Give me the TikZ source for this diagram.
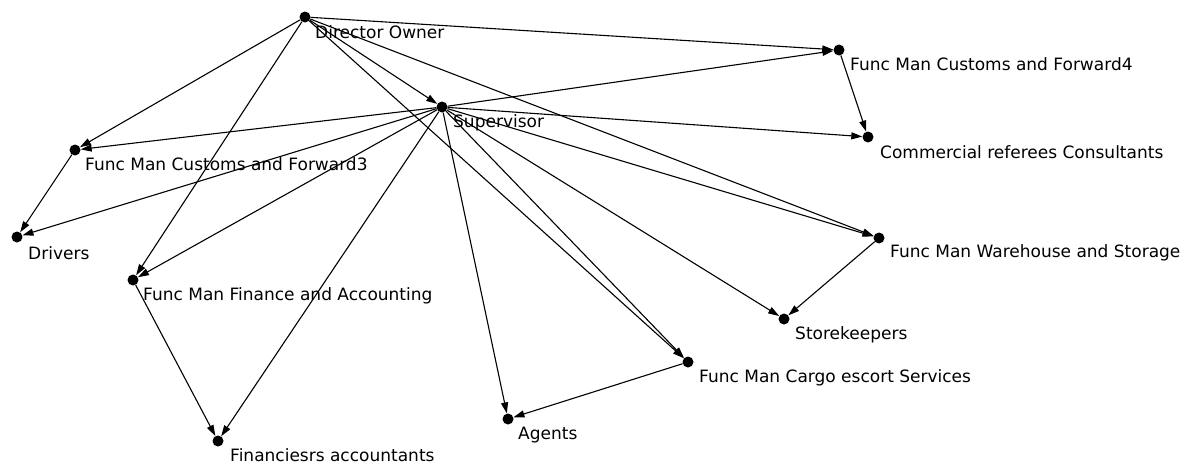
\documentclass[tikz,border=0pt]{standalone}
\usepackage{fontspec}
\setmainfont{DejaVu Sans}
\usetikzlibrary{arrows.meta}
\begin{document}
\begin{tikzpicture}[x=1pt,y=-1pt,
  vertex/.style={circle,fill=black,inner sep=0pt,minimum size=11pt},
  lbl/.style={anchor=west,inner sep=0pt,font=\fontsize{17}{19}\selectfont},
  link/.style={line width=1.1pt,-{Triangle[length=11pt,width=7pt]}}]
\useasboundingbox (0,0) rectangle (1200,466);
% vertices
\node[vertex] (dir)   at (305,17)  {};
\node[vertex] (fm4)   at (839,50)  {};
\node[vertex] (sup)   at (442,107) {};
\node[vertex] (com)   at (868,137) {};
\node[vertex] (fm3)   at (75,150)  {};
\node[vertex] (drv)   at (17,237)  {};
\node[vertex] (wh)    at (879,238) {};
\node[vertex] (fin)   at (133,280) {};
\node[vertex] (stk)   at (784,319) {};
\node[vertex] (cargo) at (688,362) {};
\node[vertex] (agt)   at (508,419) {};
\node[vertex] (fa)    at (218,441) {};
% labels
\node[lbl] (ldir)   at (315,32)  {Director Owner};
\node[lbl] (lfm4)   at (850,64)  {Func Man Customs and Forward4};
\node[lbl] (lsup)   at (453,123) {Supervisor};
\node[lbl] (lcom)   at (880,152) {Commercial referees Consultants};
\node[lbl] (lfm3)   at (85,164)  {Func Man Customs and Forward3};
\node[lbl] (ldrv)   at (28,253)  {Drivers};
\node[lbl] (lwh)    at (890,253) {Func Man Warehouse and Storage};
\node[lbl] (lfin)   at (143,296) {Func Man Finance and Accounting};
\node[lbl] (lstk)   at (795,335) {Storekeepers};
\node[lbl] (lcargo) at (699,378) {Func Man Cargo escort Services};
\node[lbl] (lagt)   at (518,435) {Agents};
\node[lbl] (lfa)    at (230,455) {Financiesrs accountants};
% links from the director
\draw[link] (dir) -- (fm4);
\draw[link] (dir) -- (sup);
\draw[link] (dir) -- (fm3);
\draw[link] (dir) -- (fin);
\draw[link] (dir) -- (wh);
\draw[link] (dir) -- (cargo);
% links from the supervisor
\draw[link] (sup) -- (fm4);
\draw[link] (sup) -- (com);
\draw[link] (sup) -- (fm3);
\draw[link] (sup) -- (drv);
\draw[link] (sup) -- (fin);
\draw[link] (sup) -- (fa);
\draw[link] (sup) -- (agt);
\draw[link] (sup) -- (cargo);
\draw[link] (sup) -- (stk);
\draw[link] (sup) -- (wh);
% links from the functional managers
\draw[link] (fm4) -- (com);
\draw[link] (fm3) -- (drv);
\draw[link] (fin) -- (fa);
\draw[link] (wh) -- (stk);
\draw[link] (cargo) -- (agt);
\end{tikzpicture}
\end{document}
